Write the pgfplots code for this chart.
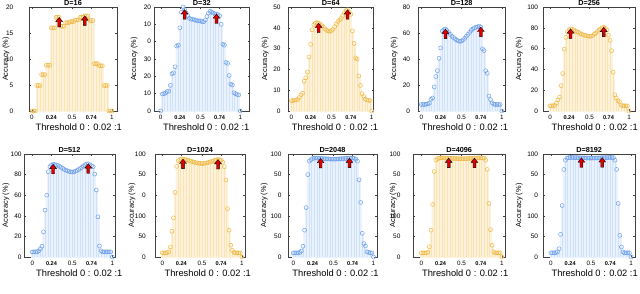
\documentclass[border=0pt]{standalone}
\usepackage{fontspec}
\setmainfont{Liberation Sans}
\usepackage{pgfplots}
\usepackage{pgfplotstable}
\pgfplotsset{compat=1.18}

\definecolor{omark}{RGB}{240,185,70}
\definecolor{obar}{RGB}{250,228,180}
\definecolor{bmark}{RGB}{110,160,235}
\definecolor{bbar}{RGB}{208,226,250}
\definecolor{arrred}{RGB}{225,0,0}

\pgfdeclareplotmark{uparr}{%
  \pgfpathmoveto{\pgfqpoint{0pt}{0pt}}%
  \pgfpathlineto{\pgfqpoint{-3.4pt}{-4.3pt}}%
  \pgfpathlineto{\pgfqpoint{-1.4pt}{-4.3pt}}%
  \pgfpathlineto{\pgfqpoint{-1.4pt}{-9.5pt}}%
  \pgfpathlineto{\pgfqpoint{1.4pt}{-9.5pt}}%
  \pgfpathlineto{\pgfqpoint{1.4pt}{-4.3pt}}%
  \pgfpathlineto{\pgfqpoint{3.4pt}{-4.3pt}}%
  \pgfpathclose
  \pgfusepathqfillstroke}

\pgfplotstableread{
x d16 d32 d64 d128 d256 d512 d1024 d2048 d4096 d8192
0.00 0 0 5 5 5 5 4 4 4 4
0.02 0 9.8 5 5 5 5 4 4 4 4
0.04 0 10 5.2 5 5 5 4 4 4 4
0.06 4.9 10.3 5.3 5.2 5.5 5 4.2 4 4 4.2
0.08 4.9 11.2 5.5 5.5 7.5 6 5 4.5 4.5 5
0.10 4.9 11.5 6.5 6 10.7 8 9.7 5.8 10 8
0.12 7 14.8 7.8 9 13.3 10.4 25 10.4 26 22
0.14 7 21.5 8.5 10 24.4 24.4 38 26 51 50
0.16 7 22 14.3 18.5 36 45.5 62.7 48 83 85
0.18 8.8 25.5 16 26.5 59.4 60 88 80 94 94
0.20 8.8 37.5 18.8 31 70.8 82.8 93.5 93 95.5 96
0.22 8.8 38 26 40.5 76 87.7 94.5 94.5 96 96.5
0.24 16 48 32 48.5 78 89.3 95 95.5 96.2 96.5
0.26 16 57 39 61.5 79 90 95 96 96.3 96.6
0.28 16 60 41.5 62.5 78.5 89.8 94.8 96 96.3 96.6
0.30 18 58.5 42.3 63 78 89.3 94.5 96 96.2 96.5
0.32 18 56.5 42.5 62 77 88.8 94 95.8 96.1 96.5
0.34 18 55 42.2 60.5 76.2 88 93.5 95.7 96 96.4
0.36 16.3 53.5 41.7 59 75.6 87 93 95.6 95.9 96.3
0.38 16.3 53 41 57.5 74.5 86 92.5 95.5 95.8 96.3
0.40 16.3 53 40.3 56.5 74 85 92 95.4 95.7 96.2
0.42 17 52.5 39.5 55.5 73.2 84.3 91.6 95.3 95.6 96.2
0.44 17 52.5 38.8 54.5 72.8 83.6 91.3 95.2 95.5 96.1
0.46 17 52 38.5 54 72.4 83 91 95.1 95.5 96.1
0.48 17.2 52 38.3 53.5 72 82.7 90.8 95 95.4 96
0.50 17.2 52 38.7 53.8 71.8 82.5 90.7 95 95.4 96
0.52 17.2 51.5 39.2 54.8 72 82.7 90.8 95 95.4 96
0.54 17.5 51.5 40.5 56 72.5 83.3 91 95.1 95.5 96.1
0.56 17.5 52.5 41.8 57.5 74 84 91.4 95.2 95.5 96.1
0.58 17.5 54.5 43 59 75 85 91.8 95.3 95.6 96.2
0.60 18 56.5 43.8 60.5 76.5 86 92.3 95.4 95.7 96.2
0.62 18 57.5 44.5 62 77.8 87 92.8 95.5 95.8 96.3
0.64 18 57 45.8 63.2 79 88.3 93.3 95.6 95.9 96.4
0.66 18.3 56.5 47.3 64 80 89.3 93.8 95.7 96 96.4
0.68 18.3 56 48.3 64.5 80.5 90.3 94.3 95.8 96.1 96.5
0.70 18.3 56 48.7 64.8 79.5 90.5 94.6 96 96.2 96.5
0.72 17.4 55.5 47.8 65.3 78 89.5 94.5 96 96.3 96.6
0.74 17.4 55 46.5 64.5 73 88.5 94 96 96.3 96.6
0.76 17.4 50 38.5 47.8 68 87.7 92 95.8 96.2 96.5
0.78 9.1 38.5 32.5 46.5 58 80.5 87.7 95 96 96.5
0.80 9.1 38 25.5 31 37.3 65 74.7 93 94 94
0.82 9.1 28 25 29 15.6 39 47 75 85 85
0.84 8.7 27.5 16.8 11.5 12.3 10.7 26 53 52 52
0.86 8.7 20.5 12.3 8.8 10 6 11.4 23 26.6 21
0.88 8.7 15.5 8.3 6.2 9 5 6.5 13 11.4 9.7
0.90 4.9 15 7 5.3 5.8 5 4.5 10.7 4.9 4.9
0.92 4.9 10.5 5.7 5 5 5 4 5 4 4
0.94 4.9 10 5.3 5 5 5 4 4.5 4 4
0.96 0 9.5 5.2 5 5 5 4 4 4 4
0.98 0 9.3 5 5 5 5 4 4 4 4
1.00 0 0 0 0 0 0 0 0 0 0
}\acc

\pgfplotsset{
  sub/.style={
    scale only axis, anchor=south west, clip=false,
    ymin=0,
    axis line style={draw=black!75, line width=0.4pt},
    tick align=inside, major tick length=1.8pt,
    every tick/.style={black!75, line width=0.4pt},
    xtick={0,0.24,0.5,0.74,1},
    xticklabels={0,{\fontsize{5.6}{6}\selectfont\bfseries 0.24},0.5,{\fontsize{5.6}{6}\selectfont\bfseries 0.74},1},
    xticklabel style={font=\fontsize{6.3}{7}\selectfont, anchor=base, yshift=-8.3pt, inner sep=0pt},
    yticklabel style={font=\fontsize{6.5}{7}\selectfont, anchor=east, inner sep=0pt},
    every axis title/.style={at={(rel axis cs:0.5,1)}, anchor=base, yshift=1.3pt, inner sep=0pt, font=\fontsize{7.3}{8}\selectfont\bfseries},
    every axis x label/.style={at={(rel axis cs:0.5,0)}, anchor=base, yshift=-20pt, font=\fontsize{9.3}{10}\selectfont},
    every axis y label/.style={at={(rel axis cs:0,0.5)}, rotate=90, anchor=center, font=\fontsize{7.4}{8}\selectfont},
    xlabel={Threshold 0 : 0.02 :1},
    ylabel={Accuracy (\%)},
    scaled y ticks=false,
    /pgf/number format/assume math mode=true,
  },
  r1/.style={height=104pt},
  r2/.style={height=103pt, ymax=100},
  lab100/.style={ytick={0,20,40,60,80,100}, yticklabels={0,50,100,0,50,100}},
  barso/.style={ybar, bar width=0.02, bar shift=0pt, fill=obar, draw=white!55!obar, line width=0.2pt},
  barsb/.style={ybar, bar width=0.02, bar shift=0pt, fill=bbar, draw=white!55!bbar, line width=0.2pt},
  markso/.style={only marks, mark=o, mark size=2pt, draw=omark, line width=0.5pt},
  marksb/.style={only marks, mark=o, mark size=2pt, draw=bmark, line width=0.5pt},
  arr/.style={only marks, mark=uparr, mark options={fill=arrred, draw=black, line width=0.35pt}},
}

\begin{document}
\begin{tikzpicture}
\useasboundingbox (0,0) rectangle (640pt,294pt);

% Row 1
\begin{axis}[sub, r1, at={(29pt,183pt)}, width=88pt, xmin=-0.0375, xmax=1.0625,
  ymax=20, ytick={0,5,10,15,20}, title={D=16},
  ylabel style={yshift=23pt}, xlabel style={xshift=5.7pt}, yticklabel style={xshift=-15.5pt}]
\addplot[barso] table[x=x,y=d16]{\acc};
\addplot[markso] table[x=x,y=d16]{\acc};
\addplot[arr] coordinates {(0.34,18) (0.66,18.3)};
\end{axis}

\begin{axis}[sub, r1, at={(154.3pt,183pt)}, width=95pt, xmin=-0.081, xmax=1.113,
  ymax=60, ytick={0,10,20,30,40,50,60}, yticklabels={0,10,20,30,0,10,20}, title={D=32},
  ylabel style={yshift=20pt}, xlabel style={xshift=4.4pt}, yticklabel style={xshift=-3pt}]
\addplot[barsb] table[x=x,y=d32]{\acc};
\addplot[marksb] table[x=x,y=d32]{\acc};
\addplot[arr] coordinates {(0.30,58.5) (0.70,56)};
\end{axis}

\begin{axis}[sub, r1, at={(288.3pt,183pt)}, width=85pt, xmin=-0.037, xmax=1.02,
  ymax=50, ytick={0,10,20,30,40,50}, title={D=64},
  ylabel style={yshift=23pt}, xlabel style={xshift=4.2pt}, yticklabel style={xshift=-7.5pt}]
\addplot[barso] table[x=x,y=d64]{\acc};
\addplot[markso] table[x=x,y=d64]{\acc};
\addplot[arr] coordinates {(0.34,42.2) (0.70,48.7)};
\end{axis}

\begin{axis}[sub, r1, at={(418.3pt,183pt)}, width=86.7pt, xmin=-0.037, xmax=1.04,
  ymax=80, ytick={0,20,40,60,80}, title={D=128},
  ylabel style={yshift=24pt}, xlabel style={xshift=3.3pt}, yticklabel style={xshift=-8pt}]
\addplot[barsb] table[x=x,y=d128]{\acc};
\addplot[marksb] table[x=x,y=d128]{\acc};
\addplot[arr] coordinates {(0.30,63) (0.74,64.5)};
\end{axis}

\begin{axis}[sub, r1, at={(543.3pt,183pt)}, width=91.7pt, xmin=-0.085, xmax=1.076,
  ymax=100, ytick={0,20,40,60,80,100}, title={D=256},
  ylabel style={yshift=24pt}, xlabel style={xshift=5.5pt}, yticklabel style={xshift=-5pt}]
\addplot[barso] table[x=x,y=d256]{\acc};
\addplot[markso] table[x=x,y=d256]{\acc};
\addplot[arr] coordinates {(0.26,79) (0.68,80.5)};
\end{axis}

% Row 2
\begin{axis}[sub, r2, at={(24pt,37pt)}, width=91pt, xmin=-0.104, xmax=1.034,
  ytick={0,20,40,60,80,100}, title={D=512},
  ylabel style={yshift=18pt}, xlabel style={xshift=9.8pt}, yticklabel style={xshift=-2.3pt}]
\addplot[barsb] table[x=x,y=d512]{\acc};
\addplot[marksb] table[x=x,y=d512]{\acc};
\addplot[arr] coordinates {(0.26,90) (0.70,90.5)};
\end{axis}

\begin{axis}[sub, r2, lab100, at={(155pt,37pt)}, width=90pt, xmin=-0.092, xmax=1.04,
  title={D=1024},
  ylabel style={yshift=23pt}, xlabel style={xshift=7.7pt}, yticklabel style={xshift=-9pt}]
\addplot[barso] table[x=x,y=d1024]{\acc};
\addplot[markso] table[x=x,y=d1024]{\acc};
\addplot[arr] coordinates {(0.26,95) (0.70,94.6)};
\end{axis}

\begin{axis}[sub, r2, lab100, at={(288.3pt,37pt)}, width=88.4pt, xmin=-0.0625, xmax=1.04,
  title={D=2048},
  ylabel style={yshift=24pt}, xlabel style={xshift=3pt}, yticklabel style={xshift=-6.7pt}]
\addplot[barsb] table[x=x,y=d2048]{\acc};
\addplot[marksb] table[x=x,y=d2048]{\acc};
\addplot[arr] coordinates {(0.34,95.7) (0.70,96)};
\end{axis}

\begin{axis}[sub, r2, lab100, at={(413.3pt,37pt)}, width=91.7pt, xmin=-0.1, xmax=1.04,
  title={D=4096},
  ylabel style={yshift=20pt}, xlabel style={xshift=6pt}, yticklabel style={xshift=-12.7pt}]
\addplot[barso] table[x=x,y=d4096]{\acc};
\addplot[markso] table[x=x,y=d4096]{\acc};
\addplot[arr] coordinates {(0.34,96) (0.66,96)};
\end{axis}

\begin{axis}[sub, r2, lab100, at={(543.3pt,37pt)}, width=91.7pt, xmin=-0.096, xmax=1.05,
  title={D=8192},
  ylabel style={yshift=24pt}, xlabel style={xshift=5.5pt}, yticklabel style={xshift=-5pt}]
\addplot[barsb] table[x=x,y=d8192]{\acc};
\addplot[marksb] table[x=x,y=d8192]{\acc};
\addplot[arr] coordinates {(0.38,96.3) (0.64,96.4)};
\end{axis}
\end{tikzpicture}
\end{document}
